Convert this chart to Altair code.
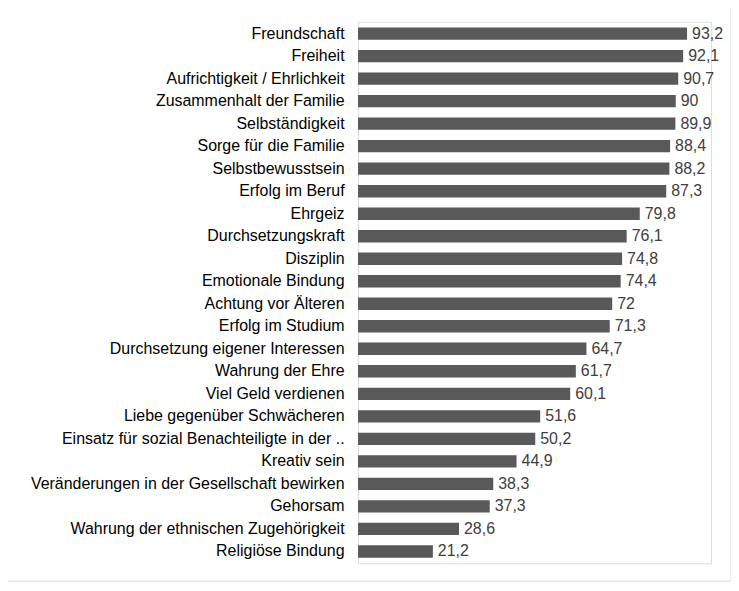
import altair as alt
import pandas as pd

categories = ["Freundschaft", "Freiheit", "Aufrichtigkeit / Ehrlichkeit", "Zusammenhalt der Familie",
              "Selbständigkeit", "Sorge für die Familie", "Selbstbewusstsein", "Erfolg im Beruf",
              "Ehrgeiz", "Durchsetzungskraft", "Disziplin", "Emotionale Bindung", "Achtung vor Älteren",
              "Erfolg im Studium", "Durchsetzung eigener Interessen", "Wahrung der Ehre",
              "Viel Geld verdienen", "Liebe gegenüber Schwächeren",
              "Einsatz für sozial Benachteiligte in der ..", "Kreativ sein",
              "Veränderungen in der Gesellschaft bewirken", "Gehorsam",
              "Wahrung der ethnischen Zugehörigkeit", "Religiöse Bindung"]
values = [93.2, 92.1, 90.7, 90, 89.9, 88.4, 88.2, 87.3, 79.8, 76.1, 74.8, 74.4, 72, 71.3,
          64.7, 61.7, 60.1, 51.6, 50.2, 44.9, 38.3, 37.3, 28.6, 21.2]
labels = [str(v).replace(".", ",") for v in values]

df = pd.DataFrame({"cat": categories, "val": values, "lab": labels})

x = alt.X("val:Q", scale=alt.Scale(domain=[0, 100], nice=False), axis=None)
y = alt.Y("cat:N", sort=categories, scale=alt.Scale(paddingInner=0.45, paddingOuter=0.25),
          axis=alt.Axis(title=None, domain=False, ticks=False, labelPadding=14, labelLimit=400,
                        labelFont="Liberation Sans", labelFontSize=16, labelColor="#000000"))

bars = alt.Chart(df).mark_bar(color="#595959").encode(x=x, y=y)
text = alt.Chart(df).mark_text(align="left", dx=5, font="Liberation Sans", fontSize=16,
                               color="#404040").encode(x=x, y=y, text="lab:N")
border = alt.Chart(pd.DataFrame({"a": [0]})).mark_rect(
    fill="white", fillOpacity=0, stroke="#d9d9d9", strokeWidth=1).encode(
    x=alt.value(-356), x2=alt.value(374), y=alt.value(-18), y2=alt.value(561))

chart = alt.layer(border, bars, text).properties(
    width=354, height=543, autosize=alt.AutoSizeParams(type="none"),
    padding={"left": 351, "top": 13, "right": 20, "bottom": 20}
).configure_view(stroke=None).configure(background="white")

chart.save("out.html", embed_options={"renderer": "svg", "actions": False})
